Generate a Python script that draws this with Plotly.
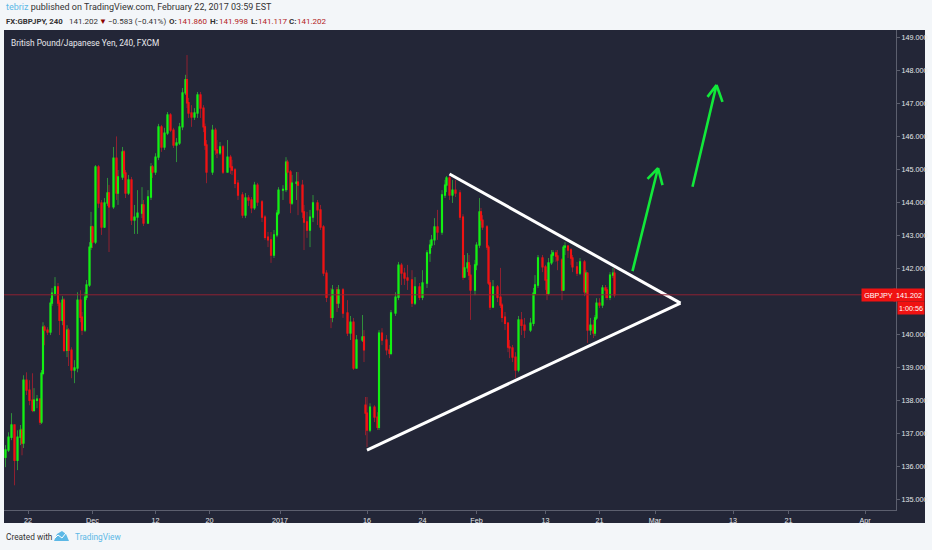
"""GBPJPY 240 chart with hand drawn triangle and arrows, TradingView look."""
import plotly.graph_objects as go

# 4h bar numbers, counted from the left edge of the chart
bars = [1, 3, 5, 7, 9, 11, 12, 13, 15, 17,
        19, 20, 22, 24, 25, 26, 27, 29, 31, 32,
        34, 36, 37, 39, 40, 42, 43, 45, 47, 49,
        51, 52, 54, 55, 57, 58, 59, 61, 63, 65,
        67, 69, 70, 73, 75, 76, 79, 80, 81, 83,
        85, 87, 89, 92, 93, 96, 98, 99, 101, 103,
        105, 107, 109, 111, 113, 115, 117, 119, 121, 122,
        123, 125, 127, 129, 131, 133, 134, 135, 139, 141,
        142, 144, 146, 149, 151, 152, 154, 156, 159, 161,
        163, 165, 167, 169, 172, 174, 176, 178, 180, 182,
        183, 186, 188, 189, 191, 192, 195, 196, 199, 200,
        202, 204, 206, 209, 211, 213, 215, 218, 219, 222,
        223, 226, 229, 231, 233, 235, 239, 240, 241, 242,
        244, 247, 249, 250, 252, 255, 257, 258, 261, 263,
        265, 267, 269, 272, 274, 277, 279, 282, 284, 285,
        287, 289, 292, 294, 295, 297, 299, 301, 304, 306,
        307, 309, 310, 311, 314, 315, 317, 318, 319, 322,
        323, 324, 326, 329, 331, 332, 334, 336, 337, 339,
        341, 343, 345, 347, 351, 353, 354, 356, 359, 361,
        362, 363, 365, 366, 368, 369, 372, 373, 374, 376,
        378, 379, 382, 384, 387, 388, 389, 391, 393, 394,
        395, 397, 399, 401, 402, 404, 406, 407]

opens = [136.27, 136.49, 136.88, 137.25, 136.18, 136.88, 137.09, 136.70, 138.61, 138.31,
         138.00, 137.70, 138.00, 138.03, 137.34, 138.82, 140.22, 140.13, 140.07, 140.95,
         141.25, 141.44, 140.95, 140.43, 141.04, 139.52, 140.13, 139.52, 138.92, 138.98,
         141.04, 140.52, 140.13, 141.13, 141.50, 142.65, 143.26, 142.80, 145.08, 143.99,
         143.26, 143.99, 144.29, 143.87, 145.35, 144.29, 144.78, 145.54, 144.90, 144.29,
         144.69, 143.47, 143.56, 143.68, 143.93, 143.38, 144.17, 145.08, 144.93, 145.38,
         146.30, 145.69, 146.11, 146.66, 146.20, 145.75, 145.81, 146.30, 147.33, 147.73,
         147.03, 146.72, 146.60, 146.72, 147.27, 146.87, 146.30, 145.75, 144.93, 146.20,
         145.60, 145.51, 145.69, 144.93, 145.38, 145.08, 144.99, 144.59, 144.23, 143.62,
         144.14, 144.08, 143.84, 144.53, 144.02, 143.56, 142.95, 142.87, 142.41, 143.02,
         143.68, 144.38, 144.40, 145.23, 144.93, 143.99, 144.59, 144.62, 144.53, 143.72,
         143.41, 143.17, 143.56, 143.99, 143.78, 143.26, 141.86, 141.13, 140.52, 141.35,
         140.95, 141.35, 140.65, 140.04, 140.37, 138.98, 139.83, 139.92, 137.85, 137.61,
         137.10, 137.79, 137.49, 137.18, 140.04, 139.83, 139.53, 139.43, 140.65, 141.13,
         142.10, 141.86, 141.71, 141.65, 140.95, 141.44, 141.13, 141.56, 142.47, 142.71,
         142.87, 143.26, 143.11, 144.23, 144.53, 144.75, 144.23, 144.38, 144.29, 143.56,
         141.74, 142.02, 142.17, 141.80, 141.35, 142.11, 142.71, 143.72, 143.47, 143.26,
         142.65, 141.56, 140.83, 141.44, 141.13, 140.89, 140.52, 140.34, 139.62, 139.59,
         139.31, 138.92, 140.44, 140.28, 140.13, 140.34, 141.25, 141.50, 142.32, 142.05,
         141.65, 141.25, 142.17, 142.41, 142.47, 142.38, 142.26, 141.35, 142.65, 142.68,
         142.56, 142.32, 142.05, 141.86, 142.20, 141.29, 141.86, 140.13, 140.28, 140.04,
         140.50, 140.95, 140.89, 141.41, 141.35, 141.13, 141.80, 141.86]

highs = [136.64, 137.03, 137.61, 137.25, 137.09, 137.25, 137.15, 138.76, 138.85, 138.61,
         138.82, 138.37, 138.16, 138.07, 138.92, 140.37, 140.28, 140.22, 141.10, 141.41,
         141.74, 141.56, 141.04, 141.16, 141.10, 140.28, 140.19, 139.61, 139.22, 141.28,
         141.34, 140.68, 141.28, 141.65, 142.80, 143.72, 143.30, 145.14, 145.14, 144.08,
         144.14, 144.75, 144.54, 145.69, 146.01, 144.99, 145.69, 145.60, 144.99, 144.84,
         144.78, 143.93, 144.38, 144.47, 144.08, 144.38, 145.20, 145.14, 145.50, 146.39,
         146.36, 146.27, 146.75, 146.72, 146.27, 145.96, 146.42, 147.48, 147.88, 148.48,
         147.18, 146.96, 146.87, 147.36, 147.36, 146.96, 146.40, 145.90, 146.36, 146.27,
         145.90, 145.84, 145.75, 145.90, 145.45, 145.30, 145.05, 144.69, 144.32, 144.29,
         144.23, 144.17, 144.63, 144.60, 144.08, 143.62, 143.11, 143.11, 143.17, 143.78,
         144.47, 144.53, 145.38, 145.30, 144.99, 144.84, 144.93, 144.93, 144.69, 143.93,
         143.72, 143.78, 144.23, 144.08, 143.93, 143.32, 141.95, 141.41, 141.50, 141.44,
         141.50, 141.41, 141.04, 140.56, 140.50, 139.98, 140.59, 140.13, 138.10, 138.10,
         137.91, 137.85, 137.64, 140.13, 140.19, 139.98, 139.68, 140.74, 141.28, 142.20,
         142.17, 142.02, 142.11, 141.95, 141.74, 141.56, 141.95, 142.56, 142.87, 143.02,
         143.53, 143.78, 144.38, 144.69, 144.81, 144.81, 144.69, 144.69, 144.38, 143.65,
         142.41, 142.47, 142.41, 142.11, 142.26, 142.80, 144.14, 143.84, 143.62, 143.32,
         142.71, 141.65, 141.65, 141.50, 142.02, 140.95, 140.68, 140.37, 139.83, 139.68,
         139.46, 140.56, 140.68, 140.50, 140.50, 141.41, 141.80, 142.41, 142.41, 142.11,
         141.95, 142.32, 142.56, 142.56, 142.56, 142.56, 142.32, 142.71, 142.80, 142.71,
         142.62, 142.41, 142.20, 142.32, 142.26, 141.95, 141.89, 140.50, 140.44, 140.59,
         141.10, 141.10, 141.50, 141.50, 141.44, 141.89, 142.02, 142.00]

lows = [135.97, 136.43, 136.79, 135.42, 135.88, 136.64, 136.33, 136.55, 138.16, 137.85,
        137.64, 137.64, 137.76, 137.25, 137.28, 138.76, 139.67, 139.98, 139.98, 140.86,
        141.16, 140.86, 139.98, 140.28, 139.46, 139.31, 139.04, 138.67, 138.52, 138.85,
        140.37, 139.98, 140.07, 141.04, 141.44, 142.56, 142.62, 142.74, 143.84, 143.02,
        143.23, 143.90, 142.50, 143.81, 144.08, 143.93, 144.69, 144.75, 144.14, 144.23,
        143.32, 143.05, 143.05, 143.53, 143.29, 143.41, 144.08, 144.75, 144.84, 145.29,
        145.54, 145.60, 146.05, 146.14, 145.66, 145.23, 145.75, 146.20, 147.27, 146.87,
        146.57, 146.30, 146.51, 146.57, 146.57, 146.14, 145.60, 144.59, 144.84, 145.45,
        145.35, 145.45, 144.87, 144.93, 144.87, 144.84, 144.44, 144.08, 143.53, 143.53,
        143.90, 143.68, 143.78, 143.90, 143.41, 142.87, 142.65, 142.17, 142.32, 142.95,
        143.62, 144.08, 144.32, 144.38, 143.68, 143.93, 144.08, 143.62, 143.53, 142.56,
        142.93, 142.65, 143.41, 143.32, 143.17, 141.77, 140.98, 140.19, 140.37, 140.68,
        140.80, 140.50, 139.95, 139.83, 138.92, 139.07, 139.77, 139.16, 136.94, 136.58,
        137.03, 137.34, 137.10, 137.10, 139.68, 139.37, 139.28, 139.37, 140.56, 141.04,
        141.50, 141.50, 141.35, 140.83, 140.89, 141.04, 141.04, 141.41, 142.20, 142.62,
        142.71, 142.87, 143.02, 144.14, 144.32, 144.08, 143.99, 144.17, 143.47, 141.65,
        141.71, 141.89, 141.65, 140.44, 141.19, 141.95, 142.62, 143.32, 143.17, 142.56,
        141.50, 140.74, 140.89, 140.98, 140.80, 140.37, 140.13, 139.46, 139.28, 139.16,
        138.68, 138.85, 139.98, 139.89, 140.07, 140.25, 141.19, 141.41, 141.89, 141.35,
        141.04, 141.19, 142.11, 142.20, 142.20, 141.95, 141.04, 141.32, 142.41, 142.32,
        142.11, 141.89, 141.77, 141.80, 141.16, 141.19, 139.74, 139.98, 139.89, 139.95,
        140.44, 140.80, 140.80, 141.10, 141.04, 141.04, 141.71, 141.12]

closes = [136.49, 136.88, 137.25, 136.18, 136.88, 137.09, 136.70, 138.61, 138.31, 138.00,
          137.70, 138.00, 138.03, 137.34, 138.82, 140.22, 140.13, 140.07, 140.95, 141.25,
          141.44, 140.95, 140.43, 141.04, 139.52, 140.13, 139.52, 138.92, 138.98, 141.04,
          140.52, 140.13, 141.13, 141.50, 142.65, 143.26, 142.80, 145.08, 143.99, 143.26,
          143.99, 144.29, 143.87, 145.35, 144.29, 144.78, 145.54, 144.90, 144.29, 144.69,
          143.47, 143.56, 143.68, 143.93, 143.38, 144.17, 145.08, 144.93, 145.38, 146.30,
          145.69, 146.11, 146.66, 146.20, 145.75, 145.81, 146.30, 147.33, 147.73, 147.03,
          146.72, 146.60, 146.72, 147.27, 146.87, 146.30, 145.75, 144.93, 146.20, 145.60,
          145.51, 145.69, 144.93, 145.38, 145.08, 144.99, 144.59, 144.23, 143.62, 144.14,
          144.08, 143.84, 144.53, 144.02, 143.56, 142.95, 142.87, 142.41, 143.02, 143.68,
          144.38, 144.40, 145.23, 144.93, 143.99, 144.59, 144.62, 144.53, 143.72, 143.41,
          143.17, 143.56, 143.99, 143.78, 143.26, 141.86, 141.13, 140.52, 141.35, 140.95,
          141.35, 140.65, 140.04, 140.37, 138.98, 139.83, 139.92, 139.53, 137.61, 137.10,
          137.79, 137.49, 137.18, 140.04, 139.83, 139.53, 139.43, 140.65, 141.13, 142.10,
          141.86, 141.71, 141.65, 140.95, 141.44, 141.13, 141.56, 142.47, 142.71, 142.87,
          143.26, 143.11, 144.23, 144.53, 144.75, 144.23, 144.38, 144.29, 143.56, 141.74,
          142.02, 142.17, 141.80, 141.35, 142.11, 142.71, 143.72, 143.47, 143.26, 142.65,
          141.56, 140.83, 141.44, 141.13, 140.89, 140.52, 140.34, 139.62, 139.59, 139.31,
          138.92, 140.44, 140.28, 140.13, 140.34, 141.25, 141.50, 142.32, 142.05, 141.65,
          141.25, 142.17, 142.41, 142.47, 142.38, 142.26, 141.35, 142.65, 142.68, 142.56,
          142.32, 142.05, 141.86, 142.20, 141.29, 141.86, 140.13, 140.28, 140.04, 140.50,
          140.95, 140.89, 141.41, 141.35, 141.13, 141.80, 141.86, 141.20]

# Drawings, in bar number / price
lower_line_x = [242, 451]
lower_line_y = [136.49, 140.95]
upper_line_x = [297, 451]
upper_line_y = [144.87, 140.95]
arrow1_x = [419, 436, 429, None, 439, 436]
arrow1_y = [141.92, 145.05, 144.72, None, 144.53, 145.05]
arrow2_x = [459, 475, 469, None, 479, 475]
arrow2_y = [144.48, 147.57, 147.21, None, 147.06, 147.57]

last_price = 141.202

x_ticks = [16, 59, 101, 137, 184, 242, 279, 315, 361, 397, 434, 486, 523, 574]
x_labels = ["22", "Dec", "12", "20", "2017", "16", "24", "Feb", "13", "21", "Mar", "13", "21", "Apr"]
# 141.000 sits under the countdown tag, so it gets no label
y_ticks = [135, 136, 137, 138, 139, 140, 142, 143, 144, 145, 146, 147, 148, 149]
y_labels = ["%.3f" % v for v in y_ticks]

W, H = 932, 550
PAGE = "#f3f6f9"
PANEL = "#232637"
TEXT_FONT = "Roboto"
TAG_RED = "#f01212"
VALUE_RED = "#b22222"
# dark panel in the page
L, R, T, B = 4, 925, 30, 523
AXIS_X = (896 - L) / (R - L)


def px(x):
    return (x - L) / (R - L)


def py(y):
    return 1 - (y - T) / (B - T)


def label(x, y, text, size=8, color="#333333"):
    return dict(x=px(x), y=py(y), xref="paper", yref="paper", text=text, showarrow=False,
                xanchor="left", yanchor="middle", align="left",
                font=dict(family=TEXT_FONT, size=size, color=color))


def tag(x, text, width, yshift=0):
    return dict(x=x, y=last_price, xref="paper", yref="y", text=text, showarrow=False,
                xanchor="right", yanchor="middle", yshift=yshift, width=width, height=10,
                bgcolor=TAG_RED, align="center",
                font=dict(family="Liberation Sans", size=7.2, color="white"))


fig = go.Figure()

# wicks in a dim colour, bodies bright on top of them
fig.add_trace(go.Candlestick(
    x=bars, open=opens, high=highs, low=lows, close=closes,
    increasing=dict(line=dict(color="#2f8f3a", width=1), fillcolor="#2f8f3a"),
    decreasing=dict(line=dict(color="#8f2030", width=1), fillcolor="#8f2030"),
    hoverinfo="skip",
))
fig.add_trace(go.Candlestick(
    x=bars, open=opens, close=closes,
    high=[max(o, c) for o, c in zip(opens, closes)],
    low=[min(o, c) for o, c in zip(opens, closes)],
    increasing=dict(line=dict(color="#12f012", width=1.4), fillcolor="#12f012"),
    decreasing=dict(line=dict(color="#f01212", width=1.4), fillcolor="#f01212"),
))

for xs, ys in [(lower_line_x, lower_line_y), (upper_line_x, upper_line_y)]:
    fig.add_trace(go.Scatter(x=xs, y=ys, mode="lines", line=dict(color="white", width=3),
                             hoverinfo="skip"))
for xs, ys in [(arrow1_x, arrow1_y), (arrow2_x, arrow2_y)]:
    fig.add_trace(go.Scatter(x=xs, y=ys, mode="lines", line=dict(color="#12e83a", width=2.6),
                             connectgaps=False, hoverinfo="skip"))

shapes = [
    dict(type="rect", xref="paper", yref="paper", x0=0, x1=1, y0=0, y1=1, layer="below",
         fillcolor=PANEL, line=dict(width=0)),
    dict(type="line", xref="x domain", yref="y", x0=0, x1=1, y0=last_price, y1=last_price,
         line=dict(color="#8e2233", width=1)),
    # TradingView logo: blue hills with a white zigzag
    dict(type="path", xref="paper", yref="paper", fillcolor="#5cb8e6", line=dict(width=0),
         path="M %f,%f L %f,%f L %f,%f L %f,%f L %f,%f L %f,%f Z" % (
             px(54), py(541), px(57), py(534), px(62), py(531), px(66), py(534),
             px(69), py(541), px(62), py(541))),
    dict(type="path", xref="paper", yref="paper", line=dict(color="white", width=1),
         path="M %f,%f L %f,%f L %f,%f L %f,%f" % (
             px(55), py(538), px(58), py(535), px(62), py(538), px(66), py(533))),
]

annotations = [
    label(4, 7, '<span style="color:#5cb8e6">tebriz</span> published on TradingView.com, '
                'February 22, 2017 03:59 EST', size=9),
    label(4, 21, "<b>FX:GBPJPY, 240</b>", size=7.8),
    label(67, 21, "141.202"),
    label(97, 21, "▼", color="#8b0000"),
    label(106, 21, "−0.583 (−0.41%)"),
    label(167, 21, "<b>O:</b>"),
    label(176, 21, "141.860", color=VALUE_RED),
    label(208, 21, "<b>H:</b>"),
    label(217, 21, "141.998", color=VALUE_RED),
    label(249, 21, "<b>L:</b>"),
    label(256, 21, "141.117", color=VALUE_RED),
    label(287, 21, "<b>C:</b>"),
    label(295, 21, "141.202", color=VALUE_RED),
    label(9, 43, "British Pound/Japanese Yen, 240, FXCM", size=8.3, color="#e8e8ec"),
    label(4, 537, "Created with", size=8.3),
    label(73, 537, "TradingView", size=8.3, color="#5cb8e6"),
    tag(AXIS_X, "GBPJPY", 31),
    tag(1, "141.202", 28),
    tag(1, "1:00:56", 24, yshift=-13),
]

fig.update_layout(
    width=W, height=H,
    margin=dict(l=L, r=W - R, t=T, b=H - B, pad=0, autoexpand=False),
    paper_bgcolor=PAGE, plot_bgcolor=PANEL,
    showlegend=False,
    shapes=shapes, annotations=annotations,
    font=dict(family="Liberation Sans", size=7.2, color="#e4e6ea"),
    xaxis=dict(domain=[0, AXIS_X], range=[0, 594.67], rangeslider=dict(visible=False),
               tickvals=x_ticks, ticktext=x_labels, showgrid=False, zeroline=False,
               ticks="outside", ticklen=3, tickcolor="#5c5f6e", showline=True, linecolor="#5c5f6e"),
    yaxis=dict(domain=[(B - 510) / (B - T), 1], range=[134.67, 149.24], side="right",
               tickvals=y_ticks, ticktext=y_labels, showgrid=False, zeroline=False,
               ticks="outside", ticklen=3, tickcolor="#5c5f6e", showline=True, linecolor="#5c5f6e"),
)

fig.write_html("out.html", config={"displayModeBar": False},
               post_script="document.body.style.margin='0';document.body.style.background='%s';" % PAGE)
